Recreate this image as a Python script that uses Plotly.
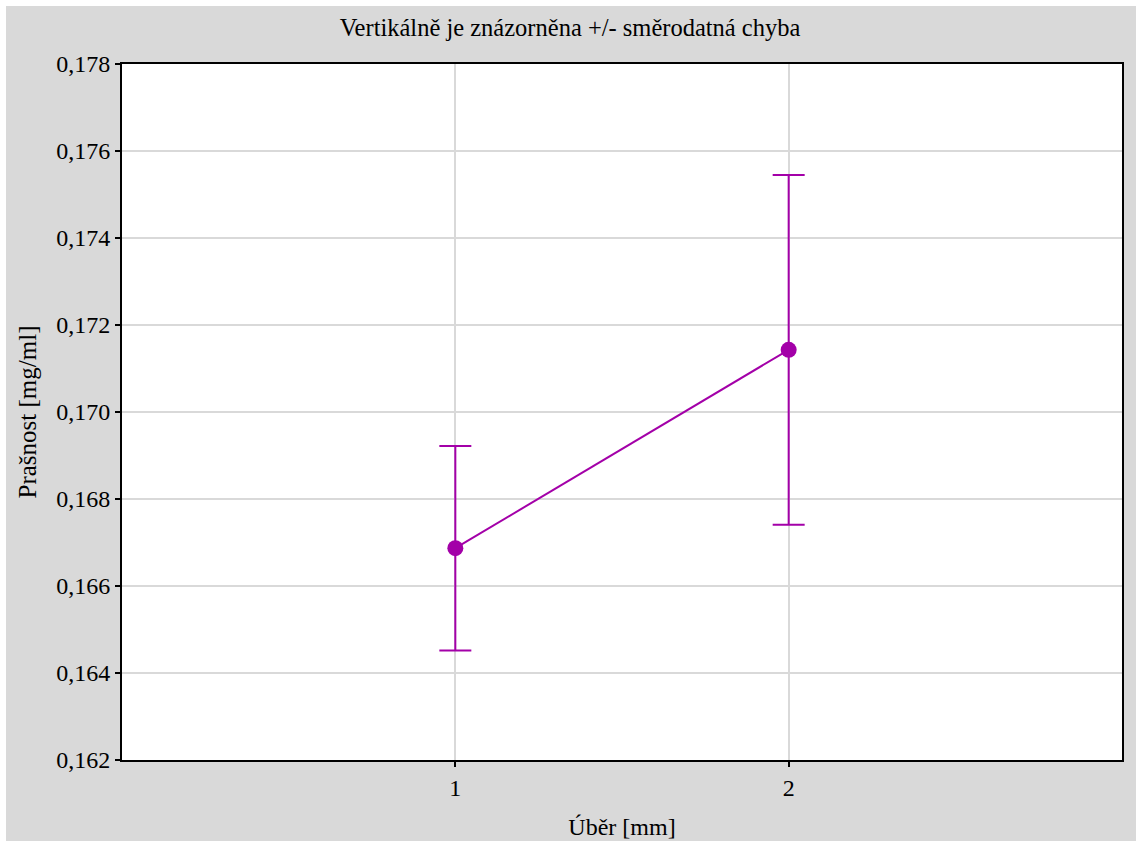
import plotly.graph_objects as go

x_vals = [1, 2]
means = [0.16687, 0.17143]
std_err = [0.00235, 0.00402]
x_ticks = [1, 2]
y_ticks = [0.162, 0.164, 0.166, 0.168, 0.170, 0.172, 0.174, 0.176, 0.178]

purple = "#a300a8"
font_family = "Liberation Serif"

fig = go.Figure()
fig.add_trace(go.Scatter(
    x=x_vals, y=means,
    mode="lines+markers",
    line=dict(color=purple, width=2),
    marker=dict(color=purple, size=16),
    error_y=dict(type="data", array=std_err, visible=True,
                 color=purple, thickness=2, width=16),
    showlegend=False,
))

W, H = 1136, 841
L, R, T, B = 122, 14, 64, 81
pw, ph = W - L - R, H - T - B


def px_x(p):
    return (p - L) / pw


def px_y(p):
    return (H - B - p) / ph


# grey canvas with a thin white strip at top/left, white plot area
fig.add_shape(type="rect", xref="paper", yref="paper",
              x0=px_x(6), x1=px_x(W + 5), y0=px_y(H + 5), y1=px_y(6),
              fillcolor="#d9d9d9", line=dict(width=0), layer="below")
fig.add_shape(type="rect", xref="paper", yref="paper",
              x0=0, x1=1, y0=0, y1=1,
              fillcolor="white", line=dict(width=0), layer="below")

fig.update_layout(
    width=W, height=H,
    margin=dict(l=L, r=R, t=T, b=B, autoexpand=False),
    paper_bgcolor="white",
    plot_bgcolor="rgba(0,0,0,0)",
    separators=", ",
    font=dict(family=font_family, color="black", size=24),
    title=dict(text="Vertikálně je znázorněna +/- směrodatná chyba",
               x=(570 - L) / pw, xref="paper", xanchor="center",
               y=1 - 27 / H, yref="container", yanchor="middle",
               font=dict(size=24.5, family=font_family)),
)

fig.update_xaxes(
    range=[0, 3], tickvals=x_ticks, ticktext=[str(v) for v in x_ticks],
    showgrid=True, gridcolor="#d9d9d9", gridwidth=2,
    showline=True, linecolor="black", linewidth=2, mirror=True,
    ticks="outside", ticklen=5, tickcolor="black", tickwidth=2,
    zeroline=False, automargin=False,
    tickfont=dict(size=24),
    title=dict(text="Úběr [mm]", font=dict(size=24), standoff=18),
)
fig.update_yaxes(
    range=[0.162, 0.178], tickvals=y_ticks, tickformat=".3f",
    showgrid=True, gridcolor="#d9d9d9", gridwidth=2,
    showline=True, linecolor="black", linewidth=2, mirror=True,
    ticks="outside", ticklen=5, tickcolor="black", tickwidth=2,
    zeroline=False, automargin=False,
    tickfont=dict(size=24),
    title=dict(text="Prašnost [mg/ml]", font=dict(size=25), standoff=12),
)

fig.write_html(
    "out.html",
    config={"displayModeBar": False},
    post_script="document.body.style.margin='0';document.body.style.overflow='hidden';",
)
